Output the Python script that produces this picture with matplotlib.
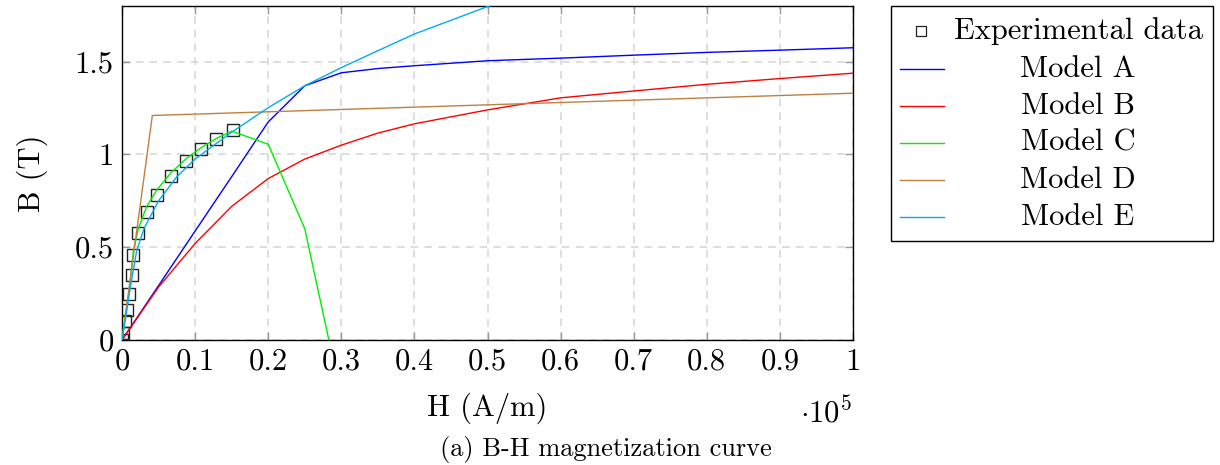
import matplotlib
matplotlib.use("Agg")
import matplotlib.pyplot as plt
from matplotlib.lines import Line2D
from matplotlib.patches import Rectangle

plt.rcParams['font.family'] = ['cmr10', 'DejaVu Serif']
plt.rcParams['mathtext.fontset'] = 'cm'
plt.rcParams['axes.formatter.use_mathtext'] = True
plt.rcParams['axes.unicode_minus'] = False

# --- data (H in A/m, B in T) ---
h_exp = [0, 150, 400, 700, 1000, 1300, 1550, 2230, 3380, 4790, 6660, 8710, 10770, 12860, 15230]
b_exp = [0.0, 0.04, 0.10, 0.16, 0.25, 0.35, 0.46, 0.577, 0.69, 0.78, 0.885, 0.967, 1.03, 1.085, 1.13]

h_a = [0, 5000, 10000, 15000, 20000, 25000, 30000, 35000, 40000, 50000, 60000, 70000, 80000, 90000, 100000]
b_a = [0.0, 0.293, 0.587, 0.88, 1.175, 1.37, 1.44, 1.463, 1.478, 1.505, 1.519, 1.535, 1.55, 1.562, 1.575]

h_b = [0, 5000, 10000, 15000, 20000, 25000, 30000, 35000, 40000, 50000, 60000, 70000, 80000, 90000, 100000]
b_b = [0.0, 0.285, 0.52, 0.72, 0.87, 0.975, 1.05, 1.115, 1.165, 1.24, 1.305, 1.342, 1.378, 1.409, 1.438]

h_c = [0, 400, 1000, 1550, 2230, 3380, 4790, 6660, 8710, 10770, 12860, 15000, 20000, 25000, 30000]
b_c = [0.0, 0.11, 0.27, 0.48, 0.60, 0.72, 0.81, 0.90, 0.975, 1.035, 1.085, 1.126, 1.055, 0.60, -0.31]

h_d = [0, 4150, 100000]
b_d = [0.0, 1.21, 1.33]

h_e = [0, 500, 1000, 2000, 3000, 5000, 7500, 10000, 15000, 20000, 25000, 30000, 35000, 40000, 50000, 60000]
b_e = [0.0, 0.12, 0.25, 0.48, 0.60, 0.75, 0.88, 0.975, 1.12, 1.252, 1.37, 1.468, 1.559, 1.649, 1.797, 1.93]

labels = ['Experimental data', 'Model A', 'Model B', 'Model C', 'Model D', 'Model E']
colors = ['#0000ff', '#ff0000', '#00ee00', '#bf8040', '#00aeef']

x_ticks = [0, 10000, 20000, 30000, 40000, 50000, 60000, 70000, 80000, 90000, 100000]
y_ticks = [0, 0.5, 1, 1.5]

W, H = 1220, 465
fig = plt.figure(figsize=(W / 100, H / 100), dpi=100)
ax = fig.add_axes([122 / W, 1 - 340 / H, (853 - 122) / W, (340 - 6) / H])

ax.plot(h_exp, b_exp, linestyle='none', marker='s', markersize=8.3,
        markerfacecolor='none', markeredgecolor='#222222', markeredgewidth=1.0, zorder=3)
models = [(h_a, b_a), (h_b, b_b), (h_c, b_c), (h_d, b_d), (h_e, b_e)]
for (hx, by), c in zip(models, colors):
    ax.plot(hx, by, color=c, lw=1.0, zorder=4)

ax.set_xlim(0, 100000)
ax.set_ylim(0, 1.8)
ax.set_xticks(x_ticks)
ax.set_xticklabels([f'{v / 1e5:g}' for v in x_ticks])
ax.set_yticks(y_ticks)
ax.set_yticklabels([f'{v:g}' for v in y_ticks])
ax.tick_params(direction='in', length=6, width=1, color='#999999',
               top=True, right=True, labelsize=22, pad=6)
ax.grid(True, color='#d4d4d4', linestyle=(0, (5, 4)), linewidth=1.1)
ax.set_axisbelow(True)
for s in ax.spines.values():
    s.set_linewidth(1.0)

ax.set_xlabel('H (A/m)', fontsize=22, labelpad=12)
ax.set_ylabel('B (T)', fontsize=22, labelpad=19)
fig.text(852 / W, 1 - 412 / H, r'$\cdot 10^5$', fontsize=22, ha='right', va='center')
fig.text(0.497, 1 - 449 / H, '(a) B-H magnetization curve', fontsize=19, ha='center', va='center')

# legend box (pgfplots style, centred labels)
tf = fig.transFigure
fig.add_artist(Rectangle((891 / W, 1 - 241 / H), (1213 - 891) / W, (241 - 6) / H,
                         transform=tf, facecolor='white', edgecolor='black', lw=1.0))
row_y = [31, 69, 106, 143, 180, 217]
fig.add_artist(Line2D([921 / W], [1 - row_y[0] / H], transform=tf, marker='s', markersize=6.5,
                      markerfacecolor='none', markeredgecolor='#222222', markeredgewidth=0.9))
for yy, c in zip(row_y[1:], colors):
    fig.add_artist(Line2D([900 / W, 944 / W], [1 - yy / H, 1 - yy / H], transform=tf, color=c, lw=1.0))
for yy, lab in zip(row_y, labels):
    fig.text(1078 / W, 1 - yy / H, lab, fontsize=22, ha='center', va='center')

fig.savefig('out.png', dpi=100)
